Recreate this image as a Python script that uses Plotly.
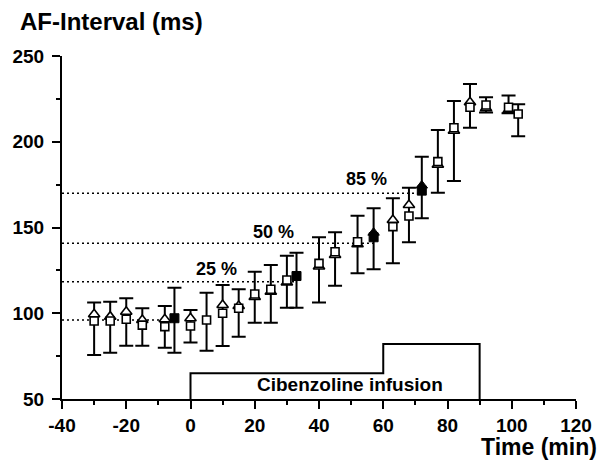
import plotly.graph_objects as go

# ---- data ----
sq_time  = [-30, -25, -20, -15, -8, 0, 5, 10, 15, 20, 25, 30, 40, 45, 52, 63, 68, 77, 82, 87, 92, 99, 102]
sq_mean  = [95.5, 95.5, 96.5, 93.1, 92.2, 92.6, 96.1, 100.0, 102.9, 111.2, 114.0, 119.4, 129.1, 135.9, 141.7, 150.5, 156.7, 188.4, 208.2, 220.1, 221.4, 220.1, 216.2]
sq_upper = [106.2, 106.7, 108.7, 102.9, 104.2, 101.9, 112.0, 116.5, 114.0, 124.2, 128.1, 133.6, 144.3, 147.2, 156.9, 167.0, 173.2, 206.9, 223.8, 233.7, 225.9, 226.9, 221.8]
sq_lower = [75.7, 77.0, 81.1, 81.1, 79.9, 83.0, 78.2, 80.9, 86.3, 94.5, 94.5, 103.2, 106.2, 116.1, 123.3, 129.1, 141.4, 170.3, 177.1, 208.2, 217.0, 216.6, 203.2]

tri_time = [-30, -25, -20, -15, -8, 0, 10, 15, 20, 25, 30, 40, 45, 52, 63, 68, 77, 82, 87, 92, 99]
tri_mean = [99.4, 98.0, 100.9, 96.1, 96.5, 97.1, 104.8, 104.2, 109.5, 112.5, 118.0, 127.3, 134.0, 140.2, 154.4, 163.1, 186.6, 206.4, 223.0, 219.6, 218.4]

fill_time  = [-5, 33, 57, 72]
fill_mean  = [97.1, 121.7, 144.3, 171.5]
fill_upper = [114.9, 135.3, 161.2, 191.3]
fill_lower = [77.0, 103.2, 125.6, 155.4]
filltri_time = [57, 72]
filltri_mean = [147.0, 174.5]

level_values = [96.1, 118.4, 140.8, 170.0]
level_ends   = [-5, 33, 57, 72]
level_labels = ["", "25 %", "50 %", "85 %"]
label_time   = [None, 8.2, 25.7, 54.8]
label_value  = [None, 125.8, 147.4, 178.0]

infusion_time  = [0, 0, 60, 60, 90, 90]
infusion_level = [50, 65, 65, 82, 82, 50]
infusion_text = "Cibenzoline infusion"

x_ticks = [-40, -20, 0, 20, 40, 60, 80, 100, 120]
y_ticks = [50, 100, 150, 200, 250]

FONT = "Liberation Sans, Arial, Helvetica, sans-serif"

fig = go.Figure()

# dotted reference levels
for v, e in zip(level_values, level_ends):
    fig.add_trace(go.Scatter(x=[-40, e], y=[v, v], mode="lines",
                             line=dict(color="black", width=1.5, dash="2px,3px"),
                             hoverinfo="skip", showlegend=False))

# infusion box
fig.add_trace(go.Scatter(x=infusion_time, y=infusion_level, mode="lines",
                         line=dict(color="black", width=2), cliponaxis=False,
                         showlegend=False, hoverinfo="skip"))

# error bars for open-square time points
fig.add_trace(go.Scatter(
    x=sq_time, y=sq_mean, mode="markers",
    marker=dict(size=1, color="rgba(0,0,0,0)"),
    error_y=dict(type="data", symmetric=False,
                 array=[u - m for u, m in zip(sq_upper, sq_mean)],
                 arrayminus=[m - l for m, l in zip(sq_mean, sq_lower)],
                 color="black", thickness=2, width=7),
    showlegend=False, hoverinfo="skip"))

# error bars for filled squares
fig.add_trace(go.Scatter(
    x=fill_time, y=fill_mean, mode="markers",
    marker=dict(size=1, color="rgba(0,0,0,0)"),
    error_y=dict(type="data", symmetric=False,
                 array=[u - m for u, m in zip(fill_upper, fill_mean)],
                 arrayminus=[m - l for m, l in zip(fill_mean, fill_lower)],
                 color="black", thickness=2, width=7),
    showlegend=False, hoverinfo="skip"))

# open triangles
fig.add_trace(go.Scatter(x=tri_time, y=tri_mean, mode="markers",
                         marker=dict(symbol="triangle-up", size=10, color="white",
                                     line=dict(color="black", width=1.6)),
                         showlegend=False))
# open squares
fig.add_trace(go.Scatter(x=sq_time, y=sq_mean, mode="markers",
                         marker=dict(symbol="square", size=8, color="white",
                                     line=dict(color="black", width=1.6)),
                         showlegend=False))
# filled triangles + squares
fig.add_trace(go.Scatter(x=filltri_time, y=filltri_mean, mode="markers",
                         marker=dict(symbol="triangle-up", size=10, color="black",
                                     line=dict(color="black", width=1)),
                         showlegend=False))
fig.add_trace(go.Scatter(x=fill_time, y=fill_mean, mode="markers",
                         marker=dict(symbol="square", size=9, color="black",
                                     line=dict(color="black", width=1)),
                         showlegend=False))

annotations = []
for lab, t, v in zip(level_labels, label_time, label_value):
    if lab:
        annotations.append(dict(x=t, y=v, xref="x", yref="y", text=lab, showarrow=False,
                                font=dict(family=FONT, size=18, color="black", weight="bold")))
annotations.append(dict(x=49.5, y=58.5, xref="x", yref="y", text=infusion_text, showarrow=False,
                        font=dict(family=FONT, size=19, color="black", weight="bold")))
annotations.append(dict(x=-0.083, y=(399 - 22) / 343, xref="paper", yref="paper",
                        xanchor="left", yanchor="middle", text="AF-Interval (ms)", showarrow=False,
                        borderpad=0,
                        font=dict(family=FONT, size=24, color="black", weight="bold")))
annotations.append(dict(x=(598 - 58) / 518, y=(399 - 447) / 343, xref="paper", yref="paper",
                        xanchor="right", yanchor="middle", text="Time (min)", showarrow=False,
                        borderpad=0,
                        font=dict(family=FONT, size=23, color="black", weight="bold")))

fig.update_layout(
    width=606, height=460,
    margin=dict(l=58, r=30, t=56, b=61),
    paper_bgcolor="white", plot_bgcolor="white",
    annotations=annotations,
    xaxis=dict(range=[-40, 120], tickvals=x_ticks, ticktext=[str(v) for v in x_ticks],
               showgrid=False, zeroline=False, showline=True, linecolor="black", linewidth=2,
               ticks="outside", ticklen=8, tickwidth=2, tickcolor="black",
               minor=dict(dtick=10, tick0=0, ticks="outside", ticklen=4, tickwidth=2, tickcolor="black"),
               tickfont=dict(family=FONT, size=19, color="black", weight="bold")),
    yaxis=dict(range=[50, 250], tickvals=y_ticks, ticktext=[str(v) for v in y_ticks],
               showgrid=False, zeroline=False, showline=True, linecolor="black", linewidth=2,
               ticks="outside", ticklen=8, tickwidth=2, tickcolor="black",
               minor=dict(dtick=25, tick0=0, ticks="outside", ticklen=4, tickwidth=2, tickcolor="black"),
               tickfont=dict(family=FONT, size=19, color="black", weight="bold"),
               ticklabelstandoff=4),
)

fig.write_html("out.html")
